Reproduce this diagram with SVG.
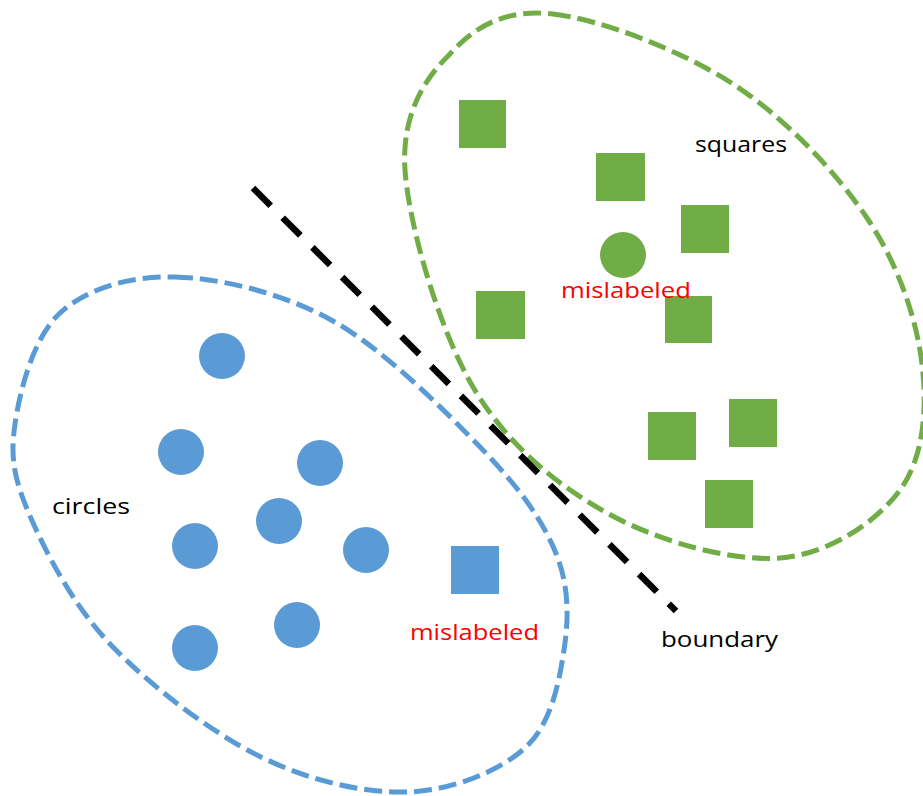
<svg xmlns="http://www.w3.org/2000/svg" width="923" height="796" viewBox="0 0 923 796">
<style>
.sq{fill:#70AD47}
.bc{fill:#5B9BD5}
.lbl{font-family:"Open Sans","Noto Sans","Liberation Sans",sans-serif;font-size:22px;fill:#000}
.red{fill:#FF0000}
.region{fill:none;stroke-width:5;stroke-dasharray:18 7}
</style>
<rect width="923" height="796" fill="#fff"/>
<g id="connectors">
<path id="green-region" class="region" stroke="#70AD47" d="M553,14 C600.2,19.3 680.7,50 733,84 C785.3,118 835.5,171.3 867,218 C898.5,264.7 916.5,318.7 922,364 C927.5,409.3 923.7,457.7 900,490 C876.3,522.3 828.8,554.2 780,558 C731.2,561.8 658.2,541.5 607,513 C555.8,484.5 506.7,444.2 473,387 C439.3,329.8 408.8,225.8 405,170 C401.2,114.2 425.3,78 449,55 C474.7,26 505.8,8.7 553,14 Z"/>
<path id="blue-region" class="region" stroke="#5B9BD5" d="M175,277 C220.5,278.3 282,292.5 333,321 C384,349.5 444,409.7 481,448 C518,486.3 540.8,517.3 555,551 C569.2,584.7 569,617.2 564,650 C559,682.8 551.2,724.3 525,748 C498.8,771.7 451.3,790.7 407,792 C362.7,793.3 308.3,780.5 259,756 C209.7,731.5 149.2,685 111,645 C72.8,605 46,552.8 30,516 C14,479.2 10,457.8 15,424 C20,390.2 33.3,337.5 60,313 C86.7,288.5 129.5,275.7 175,277 Z"/>
<line id="boundary-line" x1="253" y1="188" x2="676" y2="611" stroke="#000" stroke-width="6.5" stroke-dasharray="25 17"/>
</g>
<g id="squares-group">
<rect id="sq1" class="sq" x="459" y="100" width="47" height="48"/>
<rect id="sq2" class="sq" x="596" y="153" width="49" height="48"/>
<rect id="sq3" class="sq" x="681" y="205" width="48" height="48"/>
<rect id="sq4" class="sq" x="476" y="291" width="49" height="48"/>
<rect id="sq5" class="sq" x="665" y="296" width="47" height="47"/>
<rect id="sq6" class="sq" x="648" y="412" width="48" height="48"/>
<rect id="sq7" class="sq" x="729" y="399" width="48" height="48"/>
<rect id="sq8" class="sq" x="705" y="480" width="48" height="48"/>
<circle id="green-circle" class="sq" cx="623" cy="255" r="23"/>
<text id="label-squares" class="lbl" x="695" y="152" textLength="92" lengthAdjust="spacingAndGlyphs">squares</text>
<text id="label-mis-green" class="lbl red" x="561" y="298" textLength="130" lengthAdjust="spacingAndGlyphs">mislabeled</text>
</g>
<g id="circles-group">
<circle id="c1" class="bc" cx="222" cy="356" r="23"/>
<circle id="c2" class="bc" cx="181" cy="452" r="23"/>
<circle id="c3" class="bc" cx="320" cy="463" r="23"/>
<circle id="c4" class="bc" cx="279" cy="521" r="23"/>
<circle id="c5" class="bc" cx="195" cy="546" r="23"/>
<circle id="c6" class="bc" cx="366" cy="550" r="23"/>
<circle id="c7" class="bc" cx="297" cy="625" r="23"/>
<circle id="c8" class="bc" cx="195" cy="648" r="23"/>
<rect id="blue-square" class="bc" x="451" y="546" width="48" height="48"/>
<text id="label-circles" class="lbl" x="52" y="514" textLength="78" lengthAdjust="spacingAndGlyphs">circles</text>
<text id="label-mis-blue" class="lbl red" x="410" y="640" textLength="129" lengthAdjust="spacingAndGlyphs">mislabeled</text>
</g>
<g id="boundary">
<text id="label-boundary" class="lbl" x="661" y="647" textLength="117" lengthAdjust="spacingAndGlyphs">boundary</text>
</g>
</svg>
